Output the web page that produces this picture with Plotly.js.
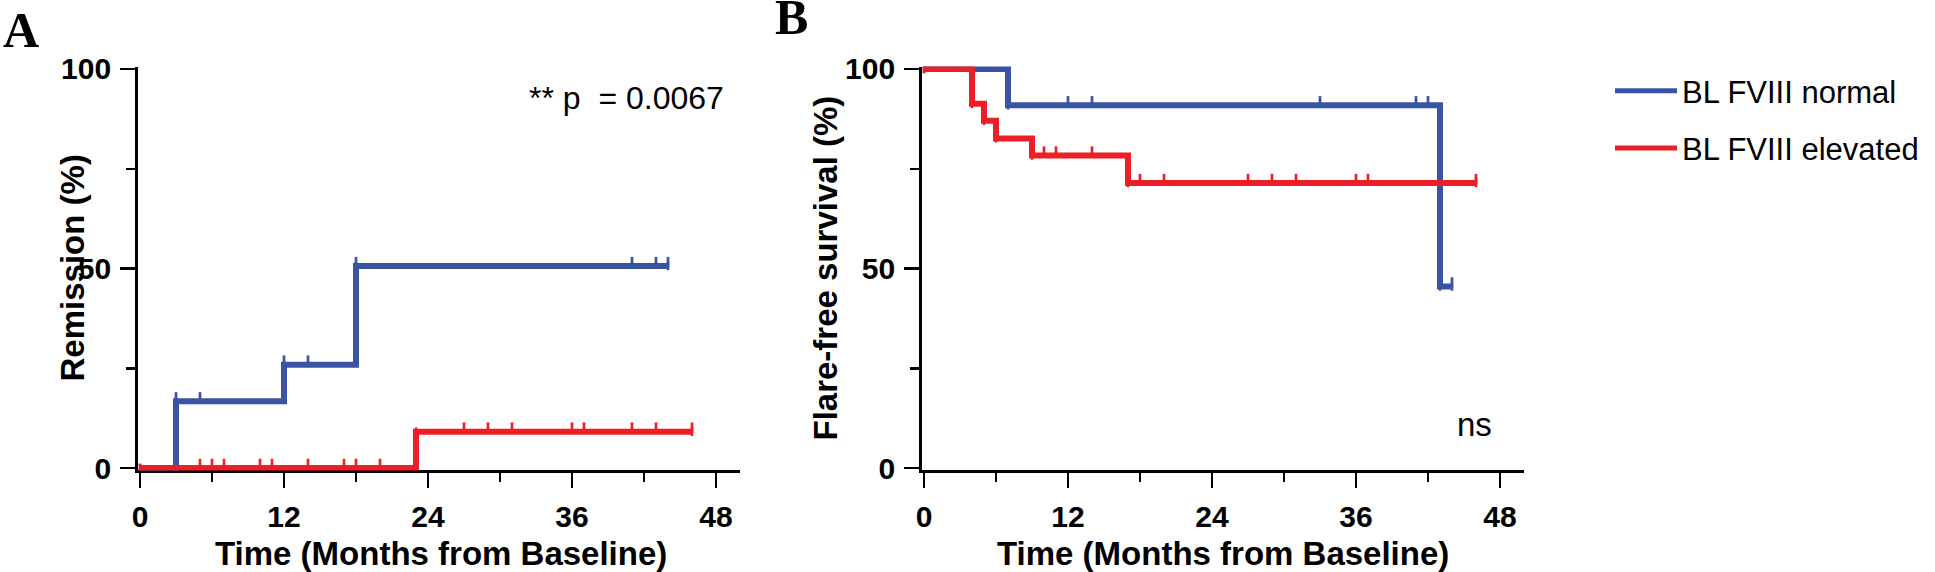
<!DOCTYPE html>
<html>
<head>
<meta charset="utf-8">
<script src="https://cdn.plot.ly/plotly-3.0.1.min.js"></script>
<style>html,body{margin:0;padding:0;background:#fff;}#chart{width:1935px;height:572px;}</style>
</head>
<body>
<div id="chart"></div>
<script>
// ---------------- DATA ----------------
const monthTicks = [0, 12, 24, 36, 48];
const pctTicks = [0, 50, 100];
const seriesNames = ["BL FVIII normal", "BL FVIII elevated"];

// Panel A: Remission (%)
const A_normal_time = [0, 3, 12, 18, 44];
const A_normal_pct = [0, 16.7, 25.9, 50.6, 50.6];
const A_normal_censor = [3, 5, 12, 14, 18, 41, 43, 44];
const A_elev_time = [0, 23, 46];
const A_elev_pct = [0, 9.1, 9.1];
const A_elev_censor = [5, 6, 7, 10, 11, 14, 17, 18, 20, 27, 29, 31, 36, 37, 41, 43, 46];

// Panel B: Flare-free survival (%)
const B_normal_time = [0, 7, 43, 44];
const B_normal_pct = [100, 90.9, 45.5, 45.5];
const B_normal_censor = [5, 12, 14, 33, 41, 42, 44];
const B_elev_time = [0, 4, 5, 6, 9, 17, 46];
const B_elev_pct = [100, 91.3, 87.0, 82.6, 78.3, 71.4, 71.4];
const B_elev_censor = [10, 11, 14, 18, 20, 27, 29, 31, 36, 37, 46];

const pText = "** p  = 0.0067";
const nsText = "ns";

// ---------------- STYLE ----------------
const BLUE = "#3a53a4";
const RED = "#ec1f26";
const W = 1935, H = 572;
const SANS = "Liberation Sans, Arial, Helvetica, sans-serif";
const SERIF = "Liberation Serif, Times New Roman, serif";
const LW = 6;
const TICK_LIFT = 1.0;   // censor tick lift (data units)
const px = (v) => v / W;
const py = (v) => 1 - v / H;

function stepAt(times, vals, t) {
  let v = vals[0];
  for (let i = 0; i < times.length; i++) { if (times[i] <= t) v = vals[i]; }
  return v;
}
function curve(times, vals, color, name, xa, ya, legend) {
  return {
    x: times, y: vals, type: "scatter", mode: "lines+markers",
    line: { shape: "hv", color: color, width: LW },
    marker: { size: 0, symbol: "line-ns", color: color, line: { color: color, width: 2.5 } },
    name: name, legendgroup: name, showlegend: legend, xaxis: xa, yaxis: ya, hoverinfo: "skip"
  };
}
function censor(times, vals, cens, color, xa, ya) {
  return {
    x: cens, y: cens.map(t => stepAt(times, vals, t) + TICK_LIFT),
    type: "scatter", mode: "markers", cliponaxis: false,
    marker: { symbol: "line-ns", size: 7.5, color: color, line: { color: color, width: 2.7 } },
    showlegend: false, xaxis: xa, yaxis: ya, hoverinfo: "skip"
  };
}

const data = [
  curve(A_normal_time, A_normal_pct, BLUE, seriesNames[0], "x", "y", false),
  curve(A_elev_time, A_elev_pct, RED, seriesNames[1], "x", "y", false),
  censor(A_normal_time, A_normal_pct, A_normal_censor, BLUE, "x", "y"),
  censor(A_elev_time, A_elev_pct, A_elev_censor, RED, "x", "y"),
  curve(B_normal_time, B_normal_pct, BLUE, seriesNames[0], "x2", "y2", true),
  curve(B_elev_time, B_elev_pct, RED, seriesNames[1], "x2", "y2", true),
  censor(B_normal_time, B_normal_pct, B_normal_censor, BLUE, "x2", "y2"),
  censor(B_elev_time, B_elev_pct, B_elev_censor, RED, "x2", "y2")
];

function tickFont() { return { family: SANS, size: 30, color: "#000", weight: "bold" }; }
function xAxis(domain, anchor) {
  return {
    domain: domain, anchor: anchor, range: [-0.2, 50], tickvals: monthTicks,
    ticks: "outside", ticklen: 15, tickwidth: 2.5, tickcolor: "#000",
    showline: true, linecolor: "#000", linewidth: 2.5, showgrid: false, zeroline: false,
    tickfont: tickFont(), layer: "below traces", ticklabelstandoff: 3,
    minor: { ticks: "outside", dtick: 6, tick0: 0, ticklen: 9, tickwidth: 2.5, tickcolor: "#000" },
    fixedrange: true
  };
}
function yAxis(anchor) {
  return {
    domain: [py(470.4), py(66.6)], anchor: anchor, range: [-0.6, 100.6], tickvals: pctTicks,
    ticks: "outside", ticklen: 15, tickwidth: 2.5, tickcolor: "#000",
    showline: true, linecolor: "#000", linewidth: 2.5, showgrid: false, zeroline: false,
    tickfont: tickFont(), layer: "below traces", ticklabelstandoff: 3,
    minor: { ticks: "outside", dtick: 25, tick0: 0, ticklen: 9, tickwidth: 2.5, tickcolor: "#000" },
    fixedrange: true
  };
}

const titleFont = { family: SANS, size: 33, color: "#000", weight: "bold" };
const annotations = [
  { text: "A", x: px(1), y: py(30), xref: "paper", yref: "paper", xanchor: "left", yanchor: "middle",
    showarrow: false, font: { family: SERIF, size: 50, color: "#000", weight: "bold" } },
  { text: "B", x: px(773), y: py(17), xref: "paper", yref: "paper", xanchor: "left", yanchor: "middle",
    showarrow: false, font: { family: SERIF, size: 50, color: "#000", weight: "bold" } },
  { text: pText, x: px(527), y: py(98), xref: "paper", yref: "paper", xanchor: "left", yanchor: "middle",
    showarrow: false, font: { family: SANS, size: 32, color: "#000" } },
  { text: nsText, x: px(1455), y: py(424), xref: "paper", yref: "paper", xanchor: "left", yanchor: "middle",
    showarrow: false, font: { family: SANS, size: 33, color: "#000" } },
  { text: "Time (Months from Baseline)", x: px(441), y: py(553), xref: "paper", yref: "paper",
    xanchor: "center", yanchor: "middle", showarrow: false, font: titleFont },
  { text: "Time (Months from Baseline)", x: px(1223), y: py(553), xref: "paper", yref: "paper",
    xanchor: "center", yanchor: "middle", showarrow: false, font: titleFont },
  { text: "Remission (%)", x: px(72), y: py(268.5), xref: "paper", yref: "paper", textangle: -90,
    xanchor: "center", yanchor: "middle", showarrow: false, font: titleFont },
  { text: "Flare-free survival (%)", x: px(825), y: py(268.5), xref: "paper", yref: "paper", textangle: -90,
    xanchor: "center", yanchor: "middle", showarrow: false, font: titleFont }
];

const layout = {
  width: W, height: H, margin: { l: 0, r: 0, t: 0, b: 0, pad: 0 },
  paper_bgcolor: "#fff", plot_bgcolor: "rgba(0,0,0,0)", showlegend: true,
  xaxis: xAxis([px(137.6), px(740)], "y"),
  yaxis: yAxis("x"),
  xaxis2: xAxis([px(921.6), px(1524)], "y2"),
  yaxis2: yAxis("x2"),
  legend: {
    x: px(1610), y: py(64), xanchor: "left", yanchor: "top", bgcolor: "rgba(0,0,0,0)",
    borderwidth: 0, font: { family: SANS, size: 31, color: "#000" },
    itemsizing: "constant", itemwidth: 62, traceorder: "grouped", tracegroupgap: 14, itemclick: false
  },
  annotations: annotations
};

Plotly.newPlot("chart", data, layout, { displayModeBar: false, staticPlot: true });
</script>
</body>
</html>
